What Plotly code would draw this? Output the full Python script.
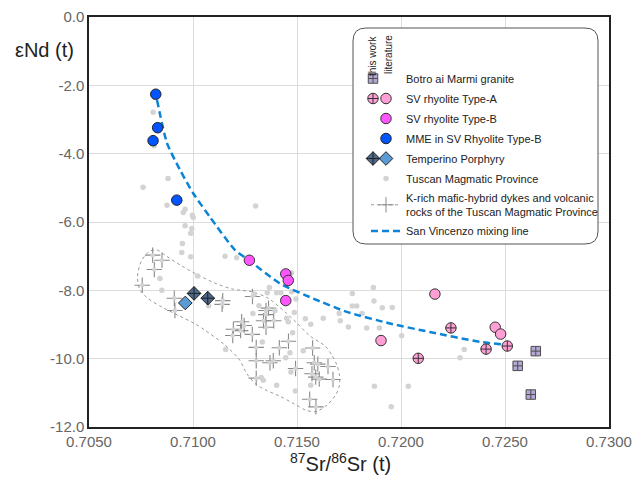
import plotly.graph_objects as go

# ---------------- data ----------------
mme_x = [0.70821, 0.70830, 0.70808, 0.70922]
mme_y = [-2.26, -3.24, -3.62, -5.36]

typeB_x = [0.71271, 0.71446, 0.71458, 0.71446]
typeB_y = [-7.12, -7.52, -7.71, -8.30]

typeA_lit_x = [0.72163, 0.72453, 0.72479, 0.71904]
typeA_lit_y = [-8.11, -9.08, -9.28, -9.47]

typeA_tw_x = [0.72240, 0.72083, 0.72409, 0.72511]
typeA_tw_y = [-9.10, -9.99, -9.72, -9.63]

botro_x = [0.72648, 0.72561, 0.72624]
botro_y = [-9.78, -10.21, -11.05]

temp_tw_x = [0.71005, 0.71071]
temp_tw_y = [-8.09, -8.23]
temp_lit_x = [0.70963]
temp_lit_y = [-8.37]

tmp_x = [0.70808, 0.70814, 0.70880, 0.70760, 0.70875, 0.70962, 0.70953, 0.70997,
         0.71001, 0.70962, 0.70994, 0.70989, 0.70949, 0.71301, 0.70946, 0.70989,
         0.71154, 0.71210, 0.70841, 0.71022, 0.70850, 0.71075,
         0.71367, 0.71357, 0.71402, 0.71423, 0.71295, 0.71317, 0.71288, 0.71394,
         0.71474, 0.71495, 0.71487, 0.71450, 0.71458, 0.71540, 0.71566, 0.71479,
         0.71333, 0.71157, 0.71466, 0.71530, 0.71446, 0.71471, 0.71328, 0.71338,
         0.71402, 0.71492, 0.71566, 0.71474, 0.71867, 0.71766, 0.71870, 0.71766,
         0.71787, 0.71910, 0.71703, 0.71813, 0.71626, 0.71708, 0.71747, 0.71835,
         0.71896, 0.71958, 0.72003, 0.72304, 0.72284, 0.71872, 0.72035, 0.71953]
tmp_y = [-2.79, -3.77, -4.73, -4.98, -5.51, -5.63, -5.72, -5.80,
         -5.87, -6.11, -6.19, -6.33, -6.63, -5.53, -6.89, -7.02,
         -7.00, -7.05, -7.65, -7.58, -8.00, -8.45,
         -7.92, -8.07, -8.07, -8.07, -8.11, -8.45, -8.68, -8.60,
         -8.04, -8.25, -8.65, -8.82, -8.92, -8.83, -8.99, -9.24,
         -9.51, -9.73, -9.83, -9.77, -9.97, -10.39, -10.55, -10.63,
         -10.78, -10.95, -10.78, -7.49, -7.92, -8.09, -8.31, -8.46,
         -8.46, -8.51, -8.68, -8.68, -8.82, -8.89, -9.07, -9.10,
         -9.10, -8.50, -9.33, -9.73, -9.97, -10.81, -10.81, -11.41]

krich_x = [0.70806, 0.70851, 0.70814, 0.70756, 0.70910, 0.70913, 0.71143, 0.71140,
           0.71286, 0.71351, 0.71363, 0.71350, 0.71339, 0.71388, 0.71351, 0.71234,
           0.71246, 0.71194, 0.71229, 0.71191, 0.71285, 0.71304, 0.71415, 0.71459,
           0.71304, 0.71370, 0.71386, 0.71575, 0.71583, 0.71600, 0.71649, 0.71572,
           0.71590, 0.71607, 0.71673, 0.71304, 0.71493, 0.71561, 0.71591]
krich_y = [-6.97, -7.12, -7.39, -7.85, -8.23, -8.59, -8.30, -8.41,
           -8.18, -8.59, -8.52, -8.71, -8.89, -8.89, -9.08, -8.92,
           -9.03, -9.14, -9.18, -9.32, -9.29, -9.67, -9.68, -9.49,
           -10.06, -10.12, -10.06, -9.69, -10.12, -10.16, -10.23, -10.44,
           -10.54, -10.60, -10.61, -10.57, -10.29, -11.19, -11.41]

field_x = [0.70793, 0.70827, 0.70875, 0.70947, 0.71024, 0.71106, 0.71188, 0.71288,
           0.71361, 0.71438, 0.71495, 0.71563, 0.71635, 0.71668, 0.71692, 0.71704,
           0.71704, 0.71688, 0.71644, 0.71591, 0.71543, 0.71486, 0.71418, 0.71351,
           0.71303, 0.71260, 0.71221, 0.71149, 0.71058, 0.71010, 0.70928, 0.70851,
           0.70784, 0.70745, 0.70733, 0.70752, 0.70793]
field_y = [-6.85, -6.82, -7.01, -7.29, -7.55, -7.79, -7.96, -8.05,
           -8.23, -8.61, -8.93, -9.34, -9.63, -9.90, -10.19, -10.48,
           -10.78, -11.04, -11.36, -11.55, -11.51, -11.32, -11.10, -10.92,
           -10.75, -10.45, -10.01, -9.58, -9.17, -8.98, -8.73, -8.49,
           -8.24, -7.99, -7.61, -7.14, -6.85]

mix_x = [0.70827, 0.70875, 0.70938, 0.71000, 0.71082, 0.71202, 0.71269,
         0.71418, 0.71578, 0.71739, 0.71947, 0.72139, 0.72380, 0.72505]
mix_y = [-2.43, -3.69, -4.48, -5.15, -5.86, -6.82, -7.12,
         -7.80, -8.24, -8.63, -8.97, -9.22, -9.51, -9.59]

x_ticks = [0.705, 0.710, 0.715, 0.720, 0.725, 0.730]
x_ticklabels = ["0.7050", "0.7100", "0.7150", "0.7200", "0.7250", "0.7300"]
y_ticks = [0, -2, -4, -6, -8, -10, -12]
y_ticklabels = ["0.0", "-2.0", "-4.0", "-6.0", "-8.0", "-10.0", "-12.0"]

# ---------------- figure ----------------
FONT = "Liberation Sans, Arial, sans-serif"
fig = go.Figure()

fig.add_trace(go.Scatter(x=field_x, y=field_y, mode="lines", showlegend=False,
                         line=dict(color="#9a9a9a", width=1, dash="dot", shape="spline",
                                   smoothing=0.8),
                         hoverinfo="skip"))
fig.add_trace(go.Scatter(x=krich_x, y=krich_y, mode="markers", showlegend=False,
                         marker=dict(symbol="cross-thin", size=11,
                                     line=dict(color="#8a8a8a", width=1.1))))
fig.add_trace(go.Scatter(x=krich_x, y=krich_y, mode="markers", showlegend=False,
                         marker=dict(color="#d2d2d2", size=4.5)))

fig.add_trace(go.Scatter(x=tmp_x, y=tmp_y, mode="markers", name="Tuscan Magmatic Province",
                         legend="legend", legendrank=6, legendgroup="g6",
                         marker=dict(color="#d3d3d3", size=5.5)))

fig.add_trace(go.Scatter(x=mix_x, y=mix_y, mode="lines", name="San Vincenzo mixing line",
                         legend="legend", legendrank=8, legendgroup="g8",
                         line=dict(color="#0b84d6", width=2.5, dash="7px,4px", shape="spline",
                                   smoothing=0.6)))

fig.add_trace(go.Scatter(x=temp_lit_x, y=temp_lit_y, mode="markers", name="Temperino Porphyry",
                         legend="legend", legendrank=5, legendgroup="g5",
                         marker=dict(symbol="diamond", color="#5b9bd5", size=10.5,
                                     line=dict(color="#222222", width=1))))
fig.add_trace(go.Scatter(x=temp_tw_x, y=temp_tw_y, mode="markers", name=" ",
                         legend="legend2", legendrank=5, legendgroup="h5",
                         marker=dict(symbol="diamond-cross", color="#4d6a8c", size=10.5,
                                     line=dict(color="#222222", width=1))))

fig.add_trace(go.Scatter(x=botro_x, y=botro_y, mode="markers", name=" ",
                         legend="legend2", legendrank=1, legendgroup="h1",
                         marker=dict(symbol="square-cross", color="#b4a7d6", size=9.5,
                                     line=dict(color="#4d4d4d", width=1))))

fig.add_trace(go.Scatter(x=typeA_lit_x, y=typeA_lit_y, mode="markers", name="SV rhyolite Type-A",
                         legend="legend", legendrank=2, legendgroup="g2",
                         marker=dict(color="#ff9fd6", size=10.5, line=dict(color="#333333", width=1))))
fig.add_trace(go.Scatter(x=typeA_tw_x, y=typeA_tw_y, mode="markers", name=" ",
                         legend="legend2", legendrank=2, legendgroup="h2",
                         marker=dict(symbol="circle-cross", color="#ff9fd6", size=10.5,
                                     line=dict(color="#333333", width=1))))
fig.add_trace(go.Scatter(x=typeB_x, y=typeB_y, mode="markers", name="SV rhyolite Type-B",
                         legend="legend", legendrank=3, legendgroup="g3",
                         marker=dict(color="#ff55ff", size=10.5, line=dict(color="#333333", width=1))))
fig.add_trace(go.Scatter(x=mme_x, y=mme_y, mode="markers", name="MME in SV Rhyolite Type-B",
                         legend="legend", legendrank=4, legendgroup="g4",
                         marker=dict(color="#0055ff", size=10.5, line=dict(color="#222222", width=1))))

# legend-only entries
fig.add_trace(go.Scatter(x=[None], y=[None], mode="markers", name="Botro ai Marmi granite",
                         legend="legend", legendrank=1, legendgroup="g1",
                         marker=dict(color="rgba(0,0,0,0)", size=10)))
fig.add_trace(go.Scatter(x=[None], y=[None], mode="lines+markers",
                         name="K-rich mafic-hybrid dykes and volcanic<br>rocks of the Tuscan Magmatic Province",
                         legend="legend", legendrank=7, legendgroup="g7",
                         line=dict(color="#9a9a9a", width=1, dash="dot"),
                         marker=dict(symbol="cross-thin", size=11, line=dict(color="#8a8a8a", width=1))))
for rk, nm in [(3, " "), (4, " "), (6, " "), (7, " <br> "), (8, " ")]:
    fig.add_trace(go.Scatter(x=[None], y=[None], mode="markers", name=nm,
                             legend="legend2", legendrank=rk, legendgroup="h%d" % rk,
                             marker=dict(color="rgba(0,0,0,0)", size=10)))

# ---------------- layout ----------------
W, H = 634, 483
L, R, T, B = 89, 25, 17, 56
pw, ph = W - L - R, H - T - B


def px(x):  # screenshot pixel -> paper fraction
    return (x - L) / pw


def py(y):
    return (H - B - y) / ph


x0, x1, y0, y1 = px(353), px(598), py(244), py(28)
rx, ry = 13 / pw, 13 / ph
box = (f"M {x0+rx},{y1} L {x1-rx},{y1} Q {x1},{y1} {x1},{y1-ry} "
       f"L {x1},{y0+ry} Q {x1},{y0} {x1-rx},{y0} L {x0+rx},{y0} "
       f"Q {x0},{y0} {x0},{y0+ry} L {x0},{y1-ry} Q {x0},{y1} {x0+rx},{y1} Z")

legend_common = dict(bgcolor="rgba(0,0,0,0)", borderwidth=0, tracegroupgap=1,
                     font=dict(family=FONT, size=11, color="#222222"),
                     xanchor="left", yanchor="top", traceorder="grouped",
                     itemsizing="trace")

fig.update_layout(
    width=W, height=H,
    margin=dict(l=L, r=R, t=T, b=B, autoexpand=False),
    paper_bgcolor="white", plot_bgcolor="white",
    font=dict(family=FONT),
    xaxis=dict(range=[0.705, 0.730], tickvals=x_ticks, ticktext=x_ticklabels,
               showgrid=True, gridcolor="#dcdcdc", gridwidth=1, zeroline=False,
               showline=True, linecolor="#222222", linewidth=1.5, mirror=True,
               ticks="", ticklabeloverflow="allow",
               tickfont=dict(size=15, color="#666666", family=FONT)),
    yaxis=dict(range=[-12, 0], tickvals=y_ticks, ticktext=y_ticklabels,
               showgrid=True, gridcolor="#dcdcdc", gridwidth=1, zeroline=False,
               showline=True, linecolor="#222222", linewidth=1.5, mirror=True,
               ticks="", ticklabeloverflow="allow",
               tickfont=dict(size=15, color="#666666", family=FONT)),
    legend=dict(x=px(366), y=py(64), **legend_common),
    legend2=dict(x=px(353), y=py(64), **legend_common),
    shapes=[dict(type="path", path=box, xref="paper", yref="paper",
                 line=dict(color="#555555", width=1), fillcolor="white", layer="above")],
    annotations=[
        dict(text="εNd (t)", xref="paper", yref="paper", x=px(44), y=py(50),
             showarrow=False, xanchor="center", yanchor="middle",
             font=dict(size=20, color="#222222", family=FONT)),
        dict(text="<sup>87</sup>Sr/<sup>86</sup>Sr (t)", xref="paper", yref="paper",
             x=px(340), y=py(462), showarrow=False, xanchor="center", yanchor="middle",
             font=dict(size=20, color="#222222", family=FONT)),
        dict(text="this work", xref="paper", yref="paper", x=px(373), y=py(56),
             showarrow=False, textangle=-90, xanchor="center", yanchor="middle",
             font=dict(size=10, color="#222222", family=FONT)),
        dict(text="literature", xref="paper", yref="paper", x=px(389), y=py(55),
             showarrow=False, textangle=-90, xanchor="center", yanchor="middle",
             font=dict(size=10, color="#222222", family=FONT)),
    ],
)

# remove the default 8px page margin so the 634x483 figure fills the window exactly
fig.write_html("out.html",
               config={"displayModeBar": False},
               post_script="document.body.style.margin='0px';document.body.style.overflow='hidden';")
